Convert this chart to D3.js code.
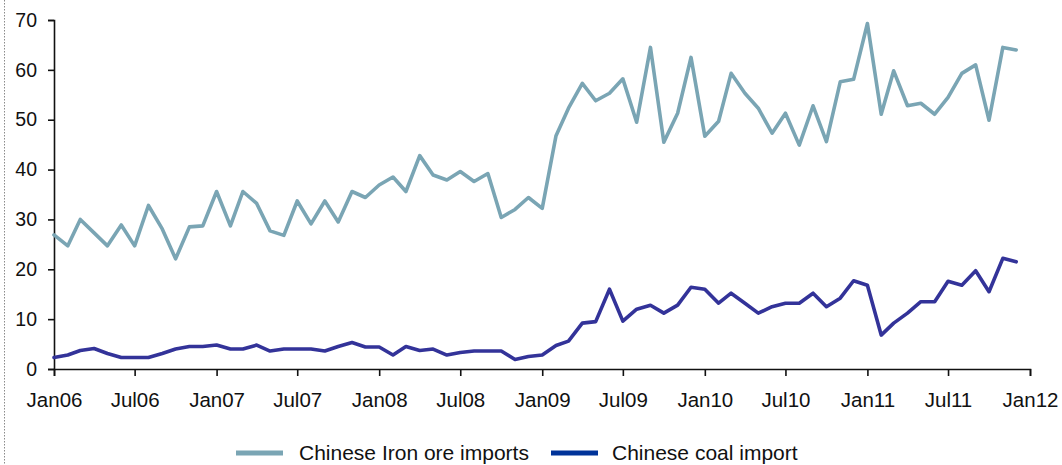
<!DOCTYPE html>
<html>
<head>
<meta charset="utf-8">
<script src="https://cdn.jsdelivr.net/npm/d3@7"></script>
<style>
  html, body { margin: 0; padding: 0; background: #fff; }
  svg { display: block; font-family: "Liberation Sans", Arial, Helvetica, sans-serif; }
</style>
</head>
<body>
<svg id="chart" width="1062" height="465"></svg>
<script>
// Monthly import volumes, Jan 2006 – Dec 2011
const months = d3.timeMonth.range(new Date(2006, 0, 1), new Date(2012, 0, 1));

const ironOre = [
  26.9, 24.7, 30.0, 27.3, 24.7, 28.9, 24.7, 32.8, 28.1, 22.1, 28.5, 28.7,
  35.6, 28.7, 35.6, 33.2, 27.7, 26.8, 33.7, 29.1, 33.7, 29.5, 35.6, 34.4,
  36.9, 38.5, 35.6, 42.8, 38.9, 37.9, 39.6, 37.6, 39.2, 30.4, 32.0, 34.4,
  32.2, 46.8, 52.3, 57.3, 53.8, 55.3, 58.2, 49.5, 64.5, 45.5, 51.3, 62.5,
  46.7, 49.7, 59.3, 55.3, 52.3, 47.3, 51.3, 44.9, 52.8, 45.6, 57.6, 58.1,
  69.3, 51.1, 59.8, 52.8, 53.3, 51.1, 54.5, 59.3, 61.0, 49.9, 64.5, 64.0
];

const coal = [
  2.3, 2.8, 3.7, 4.1, 3.1, 2.3, 2.3, 2.3, 3.1, 4.0, 4.5, 4.5,
  4.8, 4.0, 4.0, 4.8, 3.6, 4.0, 4.0, 4.0, 3.6, 4.5, 5.3, 4.4,
  4.4, 2.8, 4.5, 3.7, 4.0, 2.8, 3.3, 3.6, 3.6, 3.6, 1.9, 2.5,
  2.8, 4.7, 5.6, 9.2, 9.5, 16.0, 9.6, 12.0, 12.8, 11.2, 12.8, 16.4,
  16.0, 13.2, 15.2, 13.2, 11.2, 12.5, 13.2, 13.2, 15.2, 12.5, 14.2, 17.7,
  16.8, 6.8, 9.2, 11.2, 13.5, 13.5, 17.6, 16.8, 19.7, 15.5, 22.2, 21.5
];

const xTickLabels = ["Jan06", "Jul06", "Jan07", "Jul07", "Jan08", "Jul08", "Jan09",
                     "Jul09", "Jan10", "Jul10", "Jan11", "Jul11", "Jan12"];
const yTicks = [0, 10, 20, 30, 40, 50, 60, 70];

const seriesNames = ["Chinese Iron ore imports", "Chinese coal import"];
const lineColors = ["#7aa5b4", "#333399"];
const legendColors = ["#7aa5b4", "#003399"];

const svg = d3.select("#chart");
const W = 1062, H = 465;
const plot = { left: 54, right: 1030, top: 20, bottom: 369 };

svg.append("rect").attr("width", W).attr("height", H).attr("fill", "#fff");

// dotted frame edge on the left
svg.append("line")
  .attr("x1", 4.5).attr("x2", 4.5).attr("y1", 0).attr("y2", H)
  .attr("stroke", "#8a8a8a").attr("stroke-width", 1)
  .attr("stroke-dasharray", "1.5,1.5");

const x = d3.scaleTime()
  .domain([new Date(2006, 0, 1), new Date(2012, 0, 1)])
  .range([plot.left, plot.right]);

const y = d3.scaleLinear()
  .domain([0, 70])
  .range([plot.bottom, plot.top]);

const tickDates = xTickLabels.map((_, i) => new Date(2006, i * 6, 1));

// y axis
const yAxis = svg.append("g")
  .attr("transform", `translate(${plot.left},0)`)
  .call(d3.axisLeft(y).tickValues(yTicks).tickSize(6).tickPadding(11).tickFormat(d3.format("d")));
yAxis.select(".domain").attr("stroke", "#111").attr("stroke-width", 1.6);
yAxis.selectAll(".tick line").attr("stroke", "#111").attr("stroke-width", 1.6);
yAxis.selectAll("text").attr("font-size", 19.5).attr("fill", "#111")
  .attr("font-family", "Liberation Sans, Arial, sans-serif");

// x axis
const xAxis = svg.append("g")
  .attr("transform", `translate(0,${plot.bottom})`)
  .call(d3.axisBottom(x).tickValues(tickDates).tickSize(7).tickPadding(16)
    .tickFormat((d, i) => xTickLabels[i]));
xAxis.select(".domain").attr("stroke", "#111").attr("stroke-width", 1.6);
xAxis.selectAll(".tick line").attr("stroke", "#111").attr("stroke-width", 1.6);
xAxis.selectAll("text").attr("font-size", 20.5).attr("fill", "#111")
  .attr("font-family", "Liberation Sans, Arial, sans-serif");

// series lines
const line = d3.line()
  .x((d, i) => x(months[i]))
  .y(d => y(d));

[ironOre, coal].forEach((vals, k) => {
  svg.append("path")
    .datum(vals)
    .attr("fill", "none")
    .attr("stroke", lineColors[k])
    .attr("stroke-width", 3.6)
    .attr("stroke-linejoin", "round")
    .attr("stroke-linecap", "round")
    .attr("d", line);
});

// legend
const legendY = 453;
const legendItems = [
  { swatchX: 236, textX: 299 },
  { swatchX: 551, textX: 612 }
];
legendItems.forEach((it, k) => {
  svg.append("line")
    .attr("x1", it.swatchX).attr("x2", it.swatchX + 47)
    .attr("y1", legendY).attr("y2", legendY)
    .attr("stroke", legendColors[k]).attr("stroke-width", 5);
  svg.append("text")
    .attr("x", it.textX).attr("y", legendY)
    .attr("dy", "0.34em")
    .attr("font-size", 21)
    .attr("fill", "#111")
    .text(seriesNames[k]);
});
</script>
</body>
</html>
